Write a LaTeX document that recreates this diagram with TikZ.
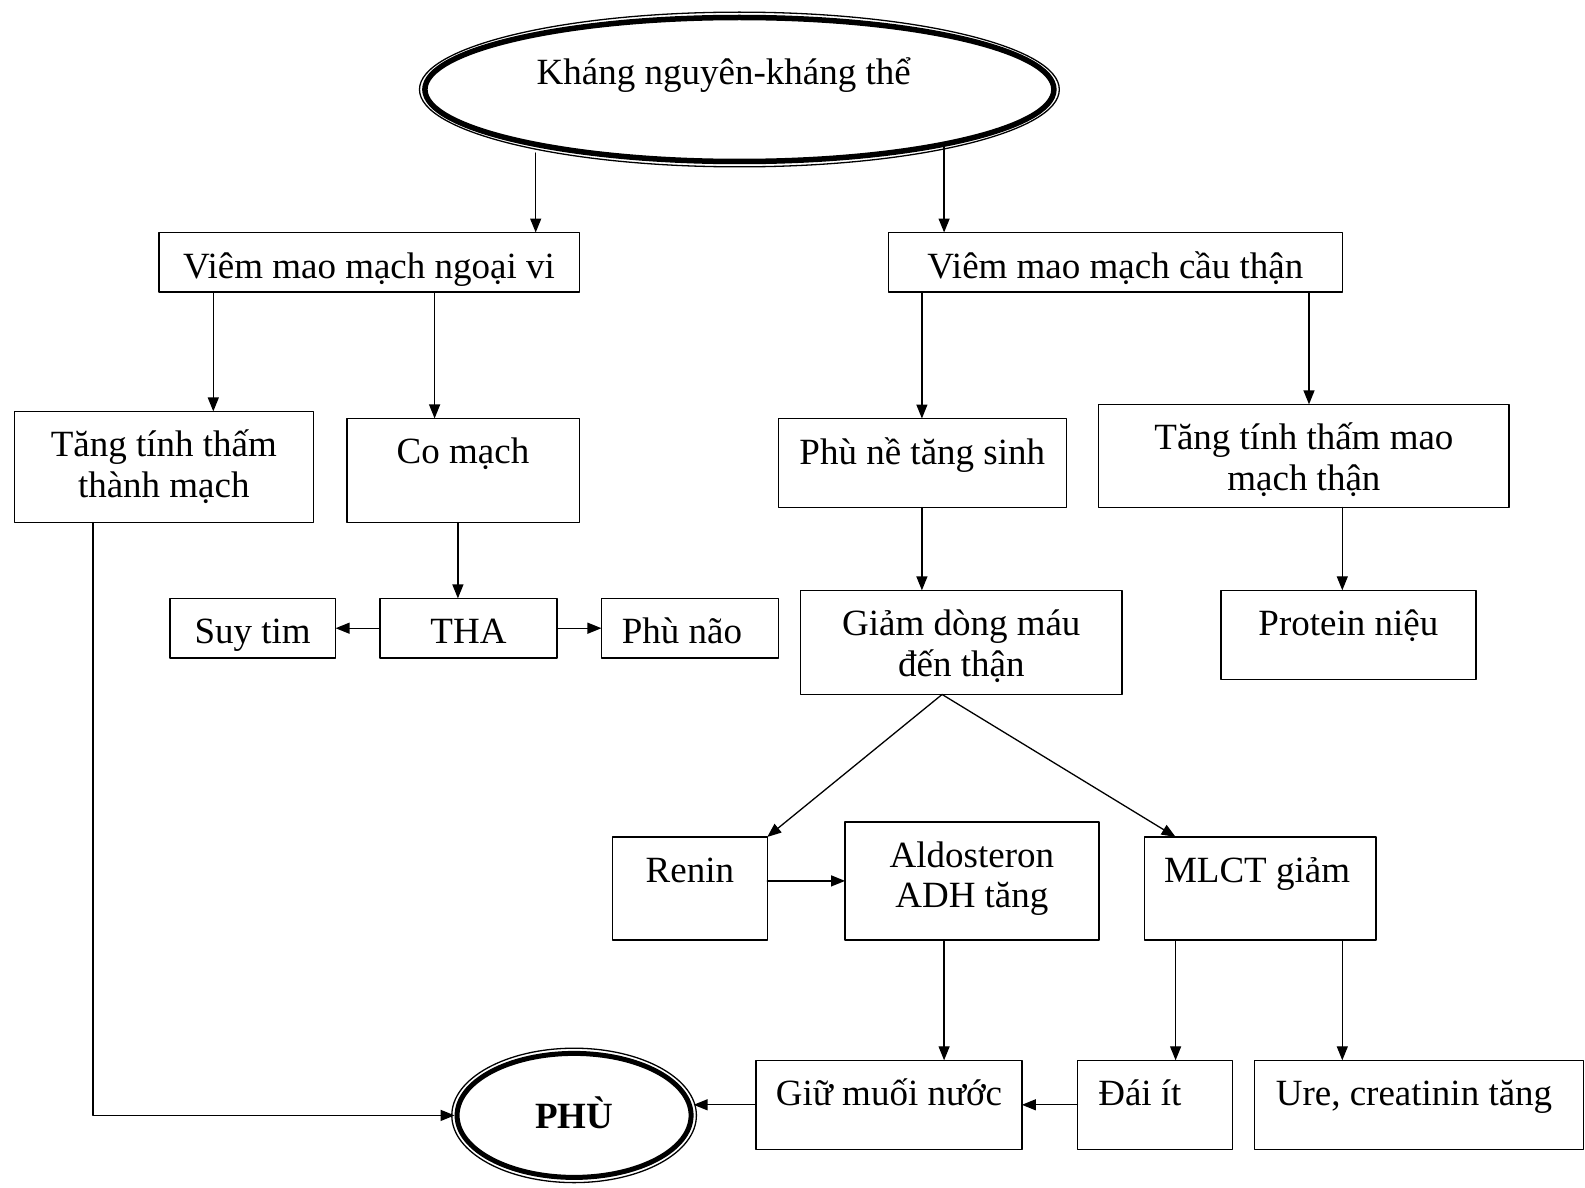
\documentclass[tikz,border=0pt]{standalone}
\usepackage{fontspec}
\setmainfont{Liberation Serif}
\usetikzlibrary{shapes.geometric, arrows.meta}

% Kastentext: Breite, Hoehe, Text (oben buendig)
\newcommand{\kasten}[4][45.5pt]{\parbox[c][#3][t]{#2}{\centering\rule{0pt}{#1}#4}}

\begin{document}
\begin{tikzpicture}[x=1pt, y=-1pt, >={Triangle[length=14pt,width=11pt]}, line cap=round, line join=round,
		font=\fontsize{37}{40.5}\selectfont,
		box/.style={draw, line width=1.5pt, inner sep=0pt, outer sep=0pt},
		ringout/.style={ellipse, draw, line width=1.3pt, inner sep=0pt},
		ringin/.style={ellipse, draw, line width=5.5pt, inner sep=0pt},
		every path/.style={line width=1.3pt}]
		
		\useasboundingbox (0,0) rectangle (1585,1188);
		
		% --- Spalten fuer senkrechte Pfeile ---
		\coordinate (ca) at (535.7,153);
		\coordinate (cb) at (944.1,146.6);
		\coordinate (c1) at (213.3,0);
		\coordinate (c2) at (434.6,0);
		\coordinate (c3) at (457.9,0);
		\coordinate (c4) at (921.9,0);
		\coordinate (c5) at (1309,0);
		\coordinate (c6) at (1342.3,0);
		\coordinate (c7) at (944.1,0);
		\coordinate (c8) at (1175.6,0);
		\coordinate (c9) at (942.1,0);
		\coordinate (xl) at (93,0);
		
		% --- Ellipse oben ---
		\node[ringout, minimum width=639.8pt, minimum height=154.7pt] (kn) at (739.4,89.5) {};
		\node[ringin, minimum width=629pt, minimum height=144pt] (knin) at (739.4,89.5) {};
		\node[anchor=base] (kntxt) at (723.7,84.5) {Kháng nguyên-kháng thể};
		
		% --- Kaesten ---
		\node[box] (vmmnv) at (369,262.3) {\kasten{420.5pt}{59.6pt}{Viêm mao mạch ngoại vi}};
		\node[box] (vmmct) at (1115.4,262.3) {\kasten{453.8pt}{59.6pt}{Viêm mao mạch cầu thận}};
		\node[box] (tttm) at (163.8,467) {\kasten{299pt}{111.2pt}{Tăng tính thấm\\thành mạch}};
		\node[box] (comach) at (463,470.5) {\kasten{232.5pt}{104.1pt}{Co mạch}};
		\node[box] (tha) at (468.5,628.2) {\kasten{177pt}{59.6pt}{THA}};
		\node[box] (suytim) at (252.7,628.2) {\kasten{165.8pt}{59.6pt}{Suy tim}};
		\node[box] (phunao) at (689.9,628.2) {\kasten{176.9pt}{59.6pt}{Phù não\hspace*{16pt}}};
		\node[box] (phune) at (922.3,463) {\kasten{288pt}{89pt}{Phù nề tăng sinh}};
		\node[box] (tttmmt) at (1303.9,455.9) {\kasten{410.4pt}{103.1pt}{Tăng tính thấm mao\\mạch thận}};
		\node[box] (giam) at (961.3,642.4) {\kasten{321.4pt}{104.1pt}{Giảm dòng máu\\đến thận}};
		\node[box] (protein) at (1348.4,634.8) {\kasten{254.8pt}{89pt}{Protein niệu}};
		\node[box] (renin) at (689.9,888.5) {\kasten{154.7pt}{103.1pt}{Renin}};
		\node[box] (aldo) at (971.9,880.9) {\kasten{253.7pt}{118.2pt}{Aldosteron\\ADH tăng}};
		\node[box] (mlct) at (1260,888.5) {\kasten{231.5pt}{103.1pt}{MLCT giảm\hspace*{6pt}}};
		\node[box] (giu) at (889,1104.8) {\kasten{265.8pt}{89pt}{Giữ muối nước}};
		\node[box] (dai) at (1154.9,1104.8) {\kasten{154.7pt}{89pt}{Đái ít\hspace*{30pt}}};
		\node[box] (ure) at (1419,1104.8) {\kasten{329pt}{89pt}{Ure, creatinin tăng\hspace*{10pt}}};
		
		% --- Ellipse unten ---
		\node[ringout, minimum width=244.6pt, minimum height=134.4pt] (phu) at (574.1,1115.4) {};
		\node[ringin, line width=5pt, minimum width=234pt, minimum height=124pt] (phuin) at (574.1,1115.4) {};
		\node[font=\fontsize{37}{40.5}\selectfont\bfseries] (phutxt) at (574.1,1113) {PHÙ};
		
		% --- Pfeile ---
		\draw[->] (ca) -- (ca |- vmmnv.north);
		\draw[->] (cb) -- (cb |- vmmct.north);
		\draw[->] (vmmnv.south -| c1) -- (tttm.north -| c1);
		\draw[->] (vmmnv.south -| c2) -- (comach.north -| c2);
		\draw[->] (comach.south -| c3) -- (tha.north -| c3);
		\draw[->] (tha.west) -- (suytim.east);
		\draw[->] (tha.east) -- (phunao.west);
		\draw[->] (vmmct.south -| c4) -- (phune.north -| c4);
		\draw[->] (vmmct.south -| c5) -- (tttmmt.north -| c5);
		\draw[->] (phune.south -| c4) -- (giam.north -| c4);
		\draw[->] (tttmmt.south -| c6) -- (protein.north -| c6);
		\draw[->] (giam.south -| c9) -- (renin.north east);
		\draw[->] (giam.south -| c9) -- (mlct.north -| c8);
		\draw[->] (renin.east |- aldo.west) -- (aldo.west);
		\draw[->] (aldo.south -| c7) -- (giu.north -| c7);
		\draw[->] (mlct.south -| c8) -- (dai.north -| c8);
		\draw[->] (mlct.south -| c6) -- (ure.north -| c6);
		\draw[->] (dai.west) -- (giu.east);
		\draw[->] (giu.west) -- (giu.west -| phuin.east);
		\draw[->] (tttm.south -| xl) |- (phuin.west);
		
	\end{tikzpicture}
\end{document}
